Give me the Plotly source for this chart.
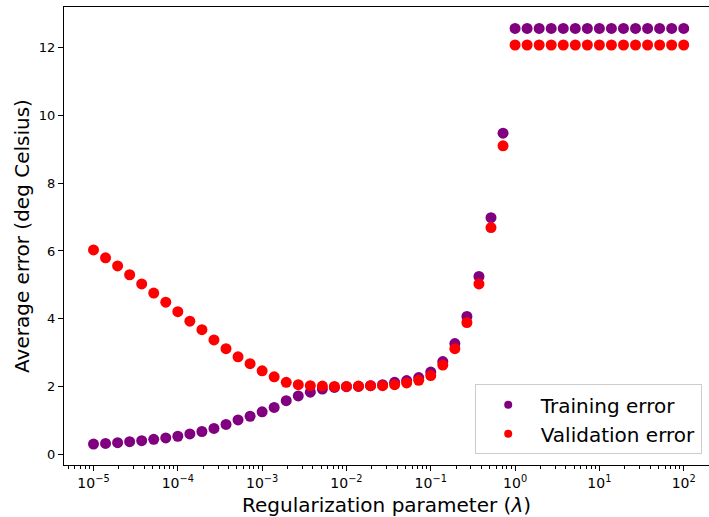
import plotly.graph_objects as go

# Regularization parameter grid (lambda)
lambdas = [
    1.000e-5, 1.389e-5, 1.931e-5, 2.683e-5, 3.728e-5, 5.179e-5, 7.197e-5,
    1.000e-4, 1.389e-4, 1.931e-4, 2.683e-4, 3.728e-4, 5.179e-4, 7.197e-4,
    1.000e-3, 1.389e-3, 1.931e-3, 2.683e-3, 3.728e-3, 5.179e-3, 7.197e-3,
    1.000e-2, 1.389e-2, 1.931e-2, 2.683e-2, 3.728e-2, 5.179e-2, 7.197e-2,
    1.000e-1, 1.389e-1, 1.931e-1, 2.683e-1, 3.728e-1, 5.179e-1, 7.197e-1,
    1.000e0, 1.389e0, 1.931e0, 2.683e0, 3.728e0, 5.179e0, 7.197e0,
    1.000e1, 1.389e1, 1.931e1, 2.683e1, 3.728e1, 5.179e1, 7.197e1,
    1.000e2,
]

training_error = [
    0.31, 0.33, 0.35, 0.38, 0.41, 0.45, 0.49,
    0.54, 0.61, 0.68, 0.77, 0.89, 1.02, 1.13,
    1.26, 1.39, 1.59, 1.73, 1.84, 1.93, 1.98,
    2.00, 2.01, 2.03, 2.06, 2.13, 2.18, 2.27,
    2.43, 2.74, 3.27, 4.07, 5.25, 6.98, 9.47,
    12.56, 12.56, 12.56, 12.56, 12.56, 12.56, 12.56,
    12.56, 12.56, 12.56, 12.56, 12.56, 12.56, 12.56,
    12.56,
]

validation_error = [
    6.03, 5.80, 5.56, 5.30, 5.03, 4.76, 4.49,
    4.21, 3.93, 3.68, 3.38, 3.12, 2.88, 2.68,
    2.47, 2.29, 2.13, 2.06, 2.03, 2.02, 2.01,
    2.01, 2.02, 2.03, 2.03, 2.06, 2.11, 2.19,
    2.33, 2.64, 3.12, 3.89, 5.03, 6.69, 9.10,
    12.07, 12.07, 12.07, 12.07, 12.07, 12.07, 12.07,
    12.07, 12.07, 12.07, 12.07, 12.07, 12.07, 12.07,
    12.07,
]

x_tickvals = [1e-5, 1e-4, 1e-3, 1e-2, 1e-1, 1e0, 1e1, 1e2]
x_ticktext = ["10<sup>−5</sup>", "10<sup>−4</sup>", "10<sup>−3</sup>", "10<sup>−2</sup>",
              "10<sup>−1</sup>", "10<sup>0</sup>", "10<sup>1</sup>", "10<sup>2</sup>"]
y_tickvals = [0, 2, 4, 6, 8, 10, 12]

minor_vals = [m * 10.0 ** e for e in range(-6, 3) for m in range(2, 10)]

FONT = "DejaVu Sans"
PURPLE = "#800080"
RED = "#ff0000"

fig = go.Figure()
fig.add_trace(go.Scatter(x=lambdas, y=training_error, mode="markers",
                         marker=dict(color=PURPLE, size=11), showlegend=False,
                         name="Training error"))
fig.add_trace(go.Scatter(x=lambdas, y=validation_error, mode="markers",
                         marker=dict(color=RED, size=11), showlegend=False,
                         name="Validation error"))
# legend entries (smaller markers as in the reference)
fig.add_trace(go.Scatter(x=[None], y=[None], mode="markers",
                         marker=dict(color=PURPLE, size=8), name="Training error"))
fig.add_trace(go.Scatter(x=[None], y=[None], mode="markers",
                         marker=dict(color=RED, size=8), name="Validation error"))

fig.update_layout(
    width=709, height=517,
    margin=dict(l=64, r=0, t=7, b=52),
    paper_bgcolor="white", plot_bgcolor="white",
    font=dict(family=FONT, color="black", size=13),
    showlegend=True,
    legend=dict(
        x=0.9887, y=0.0234, xanchor="right", yanchor="bottom",
        bgcolor="white", bordercolor="#cccccc", borderwidth=1,
        font=dict(family=FONT, size=20, color="black"),
        itemwidth=55, tracegroupgap=0,
    ),
    xaxis=dict(
        type="log", range=[-5.35, 2.30],
        tickmode="array", tickvals=x_tickvals, ticktext=x_ticktext,
        ticks="outside", ticklen=5, tickwidth=1, tickcolor="black",
        showline=True, linecolor="black", linewidth=1, mirror=True,
        showgrid=False, zeroline=False,
        tickfont=dict(family=FONT, size=14, color="black"),
        minor=dict(tickmode="array", tickvals=minor_vals, ticks="outside",
                   ticklen=3, tickwidth=1, tickcolor="black", showgrid=False),
        title=dict(text="Regularization parameter (<i>λ</i>)",
                   font=dict(family=FONT, size=20, color="black"), standoff=9),
        automargin=False,
    ),
    yaxis=dict(
        range=[-0.307, 13.19],
        tickmode="array", tickvals=y_tickvals,
        ticks="outside", ticklen=5, tickwidth=1, tickcolor="black",
        showline=True, linecolor="black", linewidth=1, mirror=False,
        showgrid=False, zeroline=False,
        tickfont=dict(family=FONT, size=13, color="black"),
        title=dict(text="Average error (deg Celsius)",
                   font=dict(family=FONT, size=20, color="black"), standoff=3),
        automargin=False,
    ),
)

fig.write_html("out.html")
